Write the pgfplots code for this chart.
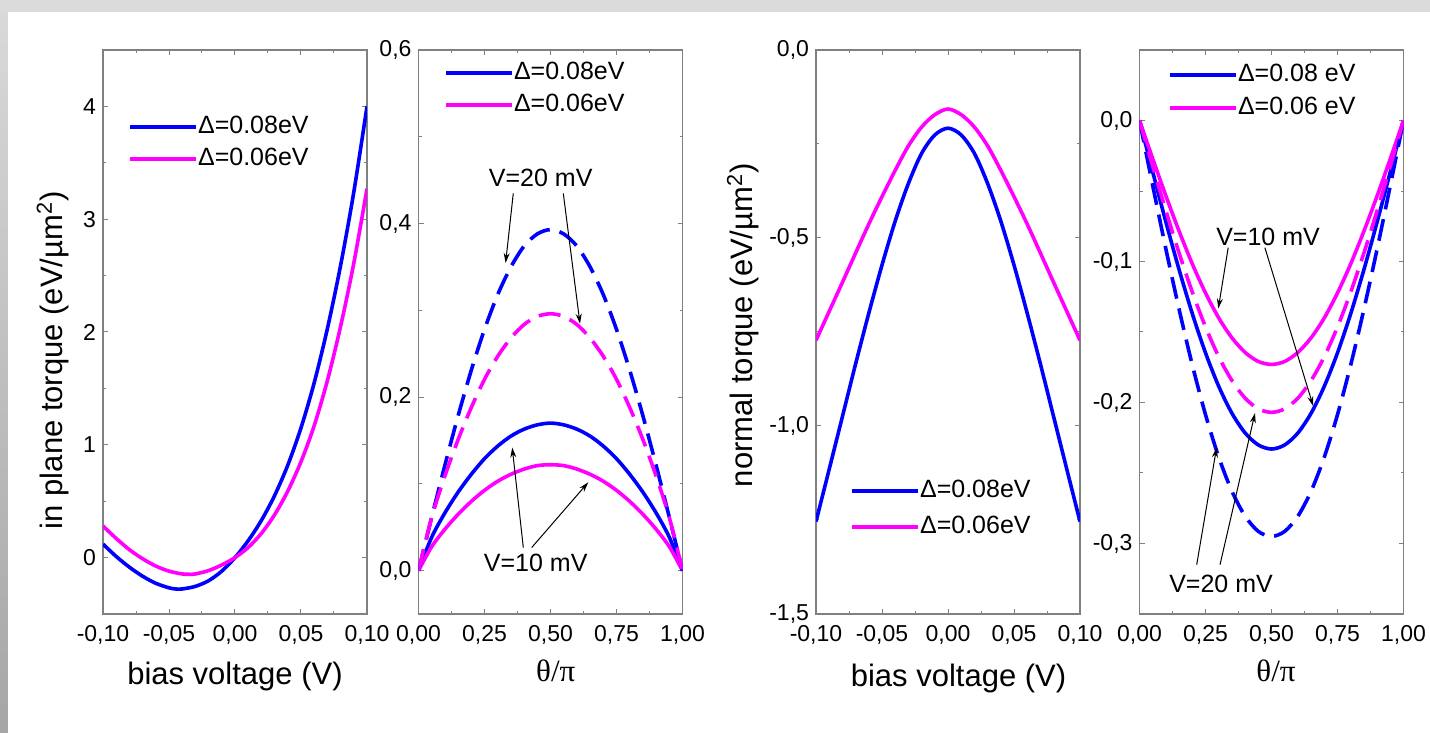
\documentclass[border=0pt]{standalone}
\usepackage{fontspec}
\setmainfont{Liberation Sans}
\newfontfamily\greekfont{Liberation Serif}
\usepackage{pgfplots}
\pgfplotsset{compat=1.18}
\usetikzlibrary{arrows.meta}

\definecolor{tqblue}{RGB}{0,0,255}
\definecolor{tqpink}{RGB}{255,0,255}
\definecolor{axisgray}{RGB}{128,128,128}

\pgfplotsset{
  torque/.style={
    scale only axis, width=132pt, height=282pt,
    anchor=south west,
    axis line style={axisgray, line width=0.6pt},
    every tick/.style={axisgray, line width=0.5pt},
    major tick length=2.5pt, minor tick length=1.5pt,
    minor tick num=1,
    tick align=inside,
    tick label style={font=\fontsize{11.5}{11.5}\selectfont, /pgf/number format/assume math mode=true},
    xticklabel style={yshift=-2pt},
    label style={font=\fontsize{15.5}{16}\selectfont},
    legend style={draw=none, fill=none, inner sep=0pt,
      font=\fontsize{12.5}{13}\selectfont, row sep=4.5pt,
      nodes={inner sep=0pt, text height=9pt, text depth=2.5pt},
      /tikz/every even column/.append style={column sep=0pt}},
    legend image code/.code={\draw[#1] (0pt,0pt) -- (33pt,0pt);},
    legend cell align=left,
    every axis plot/.append style={line width=1.8pt, smooth},
  },
  dashcurve/.style={dash pattern=on 11pt off 5pt},
}
\tikzset{
  note/.style={font=\fontsize{12.5}{13}\selectfont},
  notearrow/.style={-{Stealth[length=5pt,width=3pt]}, line width=0.5pt, black},
}

\begin{document}
\begin{tikzpicture}
% screenshot frame
\fill[gray!28] (0,0) rectangle (715pt,366.5pt);
\shade[top color=gray!30, bottom color=gray!70] (0,0) rectangle (4pt,360.5pt);
\fill[white] (4pt,0) rectangle (715pt,360.5pt);

% ---- panel 1: in plane torque vs bias
\begin{axis}[torque, at={(51.5pt,59.5pt)},
    xmin=-0.1, xmax=0.1, ymin=-0.5, ymax=4.5,
    xtick={-0.1,-0.05,0,0.05,0.1},
    xticklabels={-0{,}10,-0{,}05,0{,}00,0{,}05,0{,}10},
    ytick={0,1,2,3,4},
    xlabel={bias voltage (V)},
    ylabel={in plane torque (eV/µm\textsuperscript{2})},
    xlabel style={at={(axis description cs:0.5,-0.11)}, anchor=center},
    ylabel style={at={(axis description cs:-0.19,0.45)}, anchor=center},
    legend style={at={(axis description cs:0.095,0.835)}, anchor=west},
  ]
  \addplot[tqblue] coordinates {
    (-0.1,0.12) (-0.09,0.01) (-0.08,-0.085) (-0.07,-0.165) (-0.06,-0.228)
    (-0.05,-0.268) (-0.045,-0.278) (-0.04,-0.278) (-0.03,-0.255) (-0.02,-0.205)
    (-0.01,-0.12) (0,0) (0.01,0.15) (0.02,0.33) (0.03,0.55) (0.04,0.82)
    (0.05,1.15) (0.06,1.55) (0.07,2.03) (0.08,2.59) (0.09,3.24) (0.1,4.0)};
  \addlegendentry{Δ=0.08eV}
  \addplot[tqpink] coordinates {
    (-0.1,0.28) (-0.09,0.17) (-0.08,0.07) (-0.07,-0.01) (-0.06,-0.075)
    (-0.05,-0.12) (-0.04,-0.145) (-0.035,-0.148) (-0.03,-0.145) (-0.02,-0.115)
    (-0.01,-0.065) (0,0) (0.01,0.09) (0.02,0.215) (0.03,0.38) (0.04,0.59)
    (0.05,0.85) (0.06,1.17) (0.07,1.57) (0.08,2.05) (0.09,2.61) (0.1,3.27)};
  \addlegendentry{Δ=0.06eV}
\end{axis}

% ---- panel 2: in plane torque vs angle
\begin{axis}[torque, at={(209.25pt,59.5pt)},
    xmin=0, xmax=1, ymin=-0.05, ymax=0.6,
    xtick={0,0.25,0.5,0.75,1},
    xticklabels={0{,}00,0{,}25,0{,}50,0{,}75,1{,}00},
    ytick={0,0.2,0.4,0.6},
    yticklabels={0{,}0,0{,}2,0{,}4,0{,}6},
    xlabel={\greekfont θ/π},
    xlabel style={at={(axis description cs:0.52,-0.101)}, anchor=center},
    legend style={at={(axis description cs:0.0966,0.931)}, anchor=west},
  ]
  \addplot[tqblue] coordinates {
    (0,0) (0.05,0.0385) (0.1,0.0665) (0.15,0.0904) (0.2,0.111) (0.25,0.129)
    (0.3,0.1435) (0.35,0.155) (0.4,0.163) (0.45,0.168) (0.5,0.17)
    (0.55,0.168) (0.6,0.163) (0.65,0.155) (0.7,0.1435) (0.75,0.129)
    (0.8,0.111) (0.85,0.0904) (0.9,0.0665) (0.95,0.0385) (1,0)};
  \addlegendentry{Δ=0.08eV}
  \addplot[tqpink] coordinates {
    (0,0) (0.05,0.0276) (0.1,0.0477) (0.15,0.0649) (0.2,0.0798) (0.25,0.0925)
    (0.3,0.103) (0.35,0.111) (0.4,0.117) (0.45,0.121) (0.5,0.122)
    (0.55,0.121) (0.6,0.117) (0.65,0.111) (0.7,0.103) (0.75,0.0925)
    (0.8,0.0798) (0.85,0.0649) (0.9,0.0477) (0.95,0.0276) (1,0)};
  \addlegendentry{Δ=0.06eV}
  \addplot[tqblue, dashcurve, forget plot] coordinates {
    (0,0) (0.05,0.0615) (0.1,0.1214) (0.15,0.1784) (0.2,0.231) (0.25,0.278)
    (0.3,0.318) (0.35,0.35) (0.4,0.374) (0.45,0.388) (0.5,0.393)
    (0.55,0.388) (0.6,0.374) (0.65,0.35) (0.7,0.318) (0.75,0.278)
    (0.8,0.231) (0.85,0.1784) (0.9,0.1214) (0.95,0.0615) (1,0)};
  \addplot[tqpink, dashcurve, forget plot] coordinates {
    (0,0) (0.05,0.0612) (0.1,0.109) (0.15,0.151) (0.2,0.188) (0.25,0.2205)
    (0.3,0.247) (0.35,0.268) (0.4,0.2836) (0.45,0.293) (0.5,0.296)
    (0.55,0.293) (0.6,0.2836) (0.65,0.268) (0.7,0.247) (0.75,0.2205)
    (0.8,0.188) (0.85,0.151) (0.9,0.109) (0.95,0.0612) (1,0)};
  \node[note] at (axis cs:0.463,0.4523) {V=20 mV};
  \draw[notearrow] (axis cs:0.359,0.4347) -- (axis cs:0.330,0.3546);
  \draw[notearrow] (axis cs:0.5485,0.4347) -- (axis cs:0.6117,0.2845);
  \node[note] at (axis cs:0.444,0.0091) {V=10 mV};
  \draw[notearrow] (axis cs:0.397,0.0266) -- (axis cs:0.355,0.1418);
  \draw[notearrow] (axis cs:0.4288,0.0266) -- (axis cs:0.6432,0.1018);
\end{axis}

% ---- panel 3: normal torque vs bias
\begin{axis}[torque, at={(408pt,59.5pt)},
    xmin=-0.1, xmax=0.1, ymin=-1.5, ymax=0,
    xtick={-0.1,-0.05,0,0.05,0.1},
    xticklabels={-0{,}10,-0{,}05,0{,}00,0{,}05,0{,}10},
    ytick={-1.5,-1,-0.5,0},
    yticklabels={-1{,}5,-1{,}0,-0{,}5,0{,}0},
    xlabel={bias voltage (V)},
    ylabel={normal torque (eV/µm\textsuperscript{2})},
    xlabel style={at={(axis description cs:0.54,-0.115)}, anchor=center},
    ylabel style={at={(axis description cs:-0.277,0.512)}, anchor=center},
    legend style={at={(axis description cs:0.129,0.186)}, anchor=west, row sep=6.5pt},
  ]
  \addplot[tqblue] coordinates {
    (-0.1,-1.254) (-0.09,-1.115) (-0.08,-0.975) (-0.07,-0.835) (-0.06,-0.70)
    (-0.05,-0.572) (-0.04,-0.455) (-0.03,-0.355) (-0.02,-0.275) (-0.01,-0.226)
    (0,-0.208) (0.01,-0.226) (0.02,-0.275) (0.03,-0.355) (0.04,-0.455)
    (0.05,-0.572) (0.06,-0.70) (0.07,-0.835) (0.08,-0.975) (0.09,-1.115) (0.1,-1.254)};
  \addlegendentry{Δ=0.08eV}
  \addplot[tqpink] coordinates {
    (-0.1,-0.772) (-0.09,-0.695) (-0.08,-0.618) (-0.07,-0.54) (-0.06,-0.463)
    (-0.05,-0.39) (-0.04,-0.32) (-0.03,-0.255) (-0.02,-0.205) (-0.01,-0.172)
    (0,-0.157) (0.01,-0.172) (0.02,-0.205) (0.03,-0.255) (0.04,-0.32)
    (0.05,-0.39) (0.06,-0.463) (0.07,-0.54) (0.08,-0.618) (0.09,-0.695) (0.1,-0.772)};
  \addlegendentry{Δ=0.06eV}
\end{axis}

% ---- panel 4: normal torque vs angle
\begin{axis}[torque, at={(569.75pt,59.5pt)},
    xmin=0, xmax=1, ymin=-0.35, ymax=0.05,
    xtick={0,0.25,0.5,0.75,1},
    xticklabels={0{,}00,0{,}25,0{,}50,0{,}75,1{,}00},
    ytick={-0.3,-0.2,-0.1,0},
    yticklabels={-0{,}3,-0{,}2,-0{,}1,0{,}0},
    xlabel={\greekfont θ/π},
    xlabel style={at={(axis description cs:0.517,-0.101)}, anchor=center},
    legend style={at={(axis description cs:0.108,0.926)}, anchor=west, row sep=5pt},
  ]
  \addplot[tqblue] coordinates {
    (0,0) (0.05,-0.0364) (0.1,-0.072) (0.15,-0.1058) (0.2,-0.137) (0.25,-0.1648)
    (0.3,-0.1885) (0.35,-0.2076) (0.4,-0.2216) (0.45,-0.2301) (0.5,-0.233)
    (0.55,-0.2301) (0.6,-0.2216) (0.65,-0.2076) (0.7,-0.1885) (0.75,-0.1648)
    (0.8,-0.137) (0.85,-0.1058) (0.9,-0.072) (0.95,-0.0364) (1,0)};
  \addlegendentry{Δ=0.08 eV}
  \addplot[tqpink] coordinates {
    (0,0) (0.05,-0.0271) (0.1,-0.0535) (0.15,-0.0785) (0.2,-0.1017) (0.25,-0.1223)
    (0.3,-0.14) (0.35,-0.1541) (0.4,-0.1645) (0.45,-0.1709) (0.5,-0.173)
    (0.55,-0.1709) (0.6,-0.1645) (0.65,-0.1541) (0.7,-0.14) (0.75,-0.1223)
    (0.8,-0.1017) (0.85,-0.0785) (0.9,-0.0535) (0.95,-0.0271) (1,0)};
  \addlegendentry{Δ=0.06 eV}
  \addplot[tqblue, dashcurve, forget plot] coordinates {
    (0,0) (0.05,-0.0461) (0.1,-0.0912) (0.15,-0.1339) (0.2,-0.1734) (0.25,-0.2086)
    (0.3,-0.2387) (0.35,-0.2629) (0.4,-0.2806) (0.45,-0.2914) (0.5,-0.295)
    (0.55,-0.2914) (0.6,-0.2806) (0.65,-0.2629) (0.7,-0.2387) (0.75,-0.2086)
    (0.8,-0.1734) (0.85,-0.1339) (0.9,-0.0912) (0.95,-0.0461) (1,0)};
  \addplot[tqpink, dashcurve, forget plot] coordinates {
    (0,0) (0.05,-0.0324) (0.1,-0.064) (0.15,-0.094) (0.2,-0.1217) (0.25,-0.1464)
    (0.3,-0.1675) (0.35,-0.1844) (0.4,-0.1969) (0.45,-0.2045) (0.5,-0.207)
    (0.55,-0.2045) (0.6,-0.1969) (0.65,-0.1844) (0.7,-0.1675) (0.75,-0.1464)
    (0.8,-0.1217) (0.85,-0.094) (0.9,-0.064) (0.95,-0.0324) (1,0)};
  \node[note] at (axis cs:0.487,-0.0824) {V=10 mV};
  \draw[notearrow] (axis cs:0.336,-0.0902) -- (axis cs:0.2985,-0.1333);
  \draw[notearrow] (axis cs:0.475,-0.0902) -- (axis cs:0.658,-0.2026);
  \node[note] at (axis cs:0.309,-0.329) {V=20 mV};
  \draw[notearrow] (axis cs:0.2167,-0.315) -- (axis cs:0.292,-0.232);
  \draw[notearrow] (axis cs:0.305,-0.315) -- (axis cs:0.4375,-0.2075);
\end{axis}

\pgfresetboundingbox
\path[use as bounding box] (0,0) rectangle (715pt,366.5pt);
\end{tikzpicture}
\end{document}
